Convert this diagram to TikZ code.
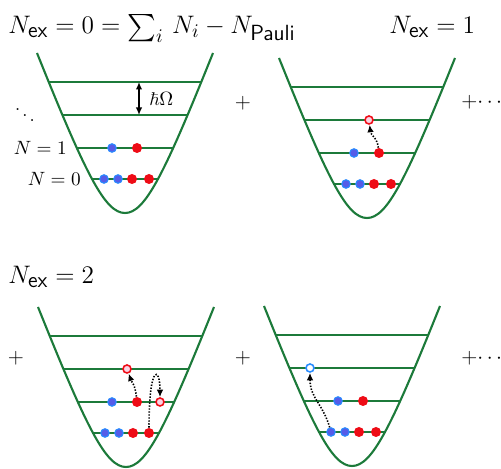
\documentclass[tikz,border=0pt]{standalone}
\usepackage{xcolor}
\usepackage{amsmath,amssymb}
\usepackage{tikz}
\usetikzlibrary{arrows.meta, positioning, calc}
\definecolor{wellgreen}{RGB}{28,122,58}
\definecolor{ptblue}{RGB}{85,92,232}
\definecolor{ptblueedge}{RGB}{40,140,255}
\definecolor{ptred}{RGB}{238,12,22}
\definecolor{holefill}{RGB}{250,212,228}
\newcommand{\sflab}[1]{\mbox{\fontsize{12.5}{14}\selectfont\sffamily #1}}
% one trap with its four levels, drawn round the local origin (bottom of the trap)
\newcommand{\drawwell}{%
  \draw[well] (-88,-160) .. controls (-39,-38) and (-20,0) .. (0,0)
    .. controls (20,0) and (39,-38) .. (88,-160);
  \draw[level] (-34,-34) -- (34,-34);
  \draw[level] (-48,-65) -- (48,-65);
  \draw[level] (-62,-98) -- (62,-98);
  \draw[level] (-76,-131) -- (76,-131);
}

\begin{document}
\begin{tikzpicture}[
  x=0.02cm, y=-0.02cm,
  >=Latex,
  well/.style={draw=wellgreen, line width=1.2pt},
  level/.style={draw=wellgreen, line width=1.1pt},
  dot/.style={circle, inner sep=0pt, minimum size=0.17cm},
  bluedot/.style={dot, fill=ptblue, draw=ptblueedge, line width=0.6pt},
  reddot/.style={dot, fill=ptred, minimum size=0.2cm},
  redhole/.style={dot, fill=holefill, draw=ptred, line width=0.9pt, minimum size=0.16cm},
  bluehole/.style={dot, fill=white, draw=ptblueedge, line width=0.9pt, minimum size=0.16cm},
  hop/.style={-{Latex[length=1.5mm, width=1.3mm]}, line width=0.9pt, dash pattern=on 0.8pt off 0.9pt},
  gap/.style={{Latex[length=1.5mm, width=1.3mm]}-{Latex[length=1.5mm, width=1.3mm]}, line width=0.85pt},
  title/.style={font=\fontsize{15.5}{18}\selectfont, inner sep=0pt},
  small/.style={font=\fontsize{10.5}{12}\selectfont, inner sep=0pt},
  plus/.style={font=\fontsize{11.5}{14}\selectfont, inner sep=0pt}
]
\useasboundingbox (0,0) rectangle (501,469);

% Headings for the three excitation classes.
\node[title, anchor=base west] (nex0) at (8,34)
  {$N_{\sflab{ex}} = 0 = \sum_i\, N_i - N_{\sflab{Pauli}}$};
\node[title, anchor=base west] (nex1) at (389,34) {$N_{\sflab{ex}} = 1$};
\node[title, anchor=base west] (nex2) at (8,284) {$N_{\sflab{ex}} = 2$};

% Ground state: filled lowest shells.
\begin{scope}[shift={(125,213)}]
  \drawwell
  \coordinate (w1l1) at (-34,-34);
  \coordinate (w1l2) at (-48,-65);
  \coordinate (gapTop) at (14,-131);
  \coordinate (gapBot) at (14,-98);
  \node[bluedot] (w1b1) at (-21,-34) {};
  \node[bluedot] (w1b2) at (-7,-34) {};
  \node[reddot] (w1r1) at (7,-34) {};
  \node[reddot] (w1r2) at (24,-34) {};
  \node[bluedot] (w1b3) at (-13,-65) {};
  \node[reddot] (w1r3) at (12,-65) {};
  \node[small, left=0.2cm of w1l1] (lblN0) {$N = 0$};
  \node[small, left=0.2cm of w1l2] (lblN1) {$N = 1$};
\end{scope}

\draw[gap] (gapTop) -- (gapBot);
\node[small, right=0.2cm of $(gapTop)!0.5!(gapBot)$] (hbar) {$\hbar\Omega$};
\node[small] (ddots) at (25,110) {$\ddots$};

\node[plus] (plusA) at (243,103) {$+$};

% One particle lifted by one shell.
\begin{scope}[shift={(367,218)}]
  \drawwell
  \node[bluedot] (w2b1) at (-21,-34) {};
  \node[bluedot] (w2b2) at (-7,-34) {};
  \node[reddot] (w2r1) at (7,-34) {};
  \node[reddot] (w2r2) at (24,-34) {};
  \node[bluedot] (w2b3) at (-13,-65) {};
  \node[reddot] (w2r3) at (12,-65) {};
  \node[redhole] (w2h3) at (2,-98) {};
\end{scope}

\draw[hop] (w2r3) .. controls +(-2,-16) and +(2,16) .. (w2h3);

\node[plus, anchor=west] (plusB) at (461,102) {$+\!\cdots$};

% Two shells of excitation, two ways.
\node[plus] (plusC) at (16,358) {$+$};

\begin{scope}[shift={(126,467)}]
  \drawwell
  \node[bluedot] (w3b1) at (-21,-34) {};
  \node[bluedot] (w3b2) at (-7,-34) {};
  \node[reddot] (w3r1) at (7,-34) {};
  \node[reddot] (w3r2) at (23,-34) {};
  \node[bluedot] (w3b3) at (-14,-65) {};
  \node[reddot] (w3r3) at (11,-65) {};
  \node[redhole] (w3h2) at (34,-65) {};
  \node[redhole] (w3h3) at (1,-98) {};
\end{scope}

\draw[hop] (w3r3) .. controls +(-2,-18) and +(5,14) .. (w3h3);
\draw[hop] (w3r2) .. controls +(0,-70) and +(0,-36) .. (w3h2);

\node[plus] (plusD) at (243,358) {$+$};

\begin{scope}[shift={(352,466)}]
  \drawwell
  \node[bluedot] (w4b1) at (-21,-34) {};
  \node[bluedot] (w4b2) at (-7,-34) {};
  \node[reddot] (w4r1) at (7,-34) {};
  \node[reddot] (w4r2) at (24,-34) {};
  \node[bluedot] (w4b3) at (-14,-65) {};
  \node[reddot] (w4r3) at (11,-65) {};
  \node[bluehole] (w4h3) at (-42,-98) {};
\end{scope}

\draw[hop] (w4b1) .. controls +(-8,-28) and +(0,30) .. (w4h3);

\node[plus, anchor=west] (plusE) at (461,358) {$+\!\cdots$};

\end{tikzpicture}
\end{document}
